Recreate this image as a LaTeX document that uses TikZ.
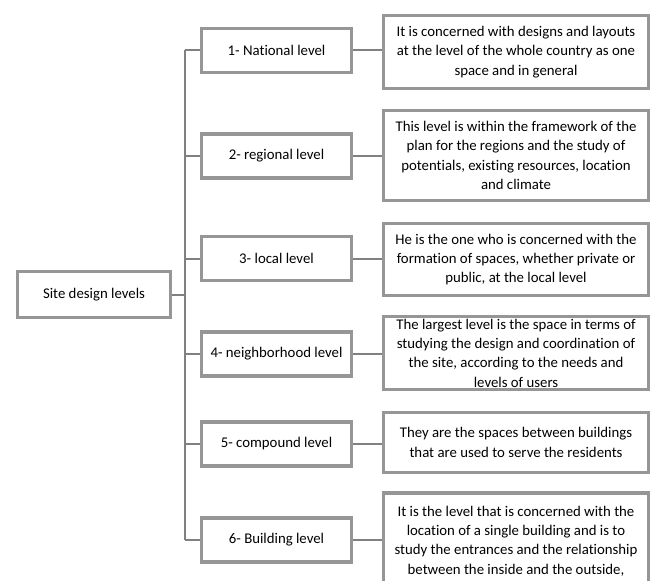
\documentclass[tikz,border=0pt]{standalone}
\usepackage{fontspec}
\setmainfont{Carlito}[Ligatures=NoCommon]
\definecolor{boxgray}{RGB}{150,150,150}
\definecolor{linegray}{RGB}{128,128,128}
\tikzset{
 box/.style={draw=boxgray, line width=3.5pt, fill=white, align=center, inner sep=1pt,
   font=\fontsize{14.8}{19.3}\selectfont},
 lvlbox/.style={box, minimum width=150pt, minimum height=44pt},
 descbox/.style={box, minimum width=265pt},
 link/.style={draw=linegray, line width=2pt}
}

\begin{document}
\begin{tikzpicture}[x=1pt,y=-1pt]
 \useasboundingbox[fill=white] (0,0) rectangle (660,580);
 \node[box, minimum width=153pt, minimum height=46pt] (root) at (94,294.5) {Site design levels};
 \coordinate (trunk) at (185,294.5);
 % levels
 \node[lvlbox] (lvl1) at (276.5,50.5) {1- National level};
 \node[lvlbox] (lvl2) at (276.5,156) {2- regional level};
 \node[lvlbox] (lvl3) at (276.5,258.5) {3- local level};
 \node[lvlbox] (lvl4) at (276.5,354) {4- neighborhood level};
 \node[lvlbox] (lvl5) at (276.5,444) {5- compound level};
 \node[lvlbox] (lvl6) at (276.5,540) {6- Building level};
 % descriptions
 \node[descbox, minimum height=73pt] (desc1) at (516,52) {It is concerned with designs and layouts\\at the level of the whole country as one\\space and in general};
 \node[descbox, minimum height=90pt] (desc2) at (516,155.5) {This level is within the framework of the\\plan for the regions and the study of\\potentials, existing resources, location\\and climate};
 \node[descbox, minimum height=72pt] (desc3) at (516,259.5) {He is the one who is concerned with the\\formation of spaces, whether private or\\public, at the local level};
 \node[descbox, minimum height=73pt] (desc4) at (516,353) {The largest level is the space in terms of\\studying the design and coordination of\\the site, according to the needs and\\levels of users};
 \node[descbox, minimum height=60pt] (desc5) at (516,442.5) {They are the spaces between buildings\\that are used to serve the residents};
 \node[descbox, minimum height=96pt] (desc6) at (516,541) {It is the level that is concerned with the\\location of a single building and is to\\study the entrances and the relationship\\between the inside and the outside,};
 % connectors
 \draw[link] (root.east) -- (trunk);
 \draw[link] (trunk |- lvl1.west) -- (trunk |- lvl6.west);
 \foreach \i in {1,...,6} {
  \draw[link] (trunk |- lvl\i.west) -- (lvl\i.west);
  \draw[link] (lvl\i.east) -- (desc\i.west |- lvl\i.east);
 }
\end{tikzpicture}
\end{document}
